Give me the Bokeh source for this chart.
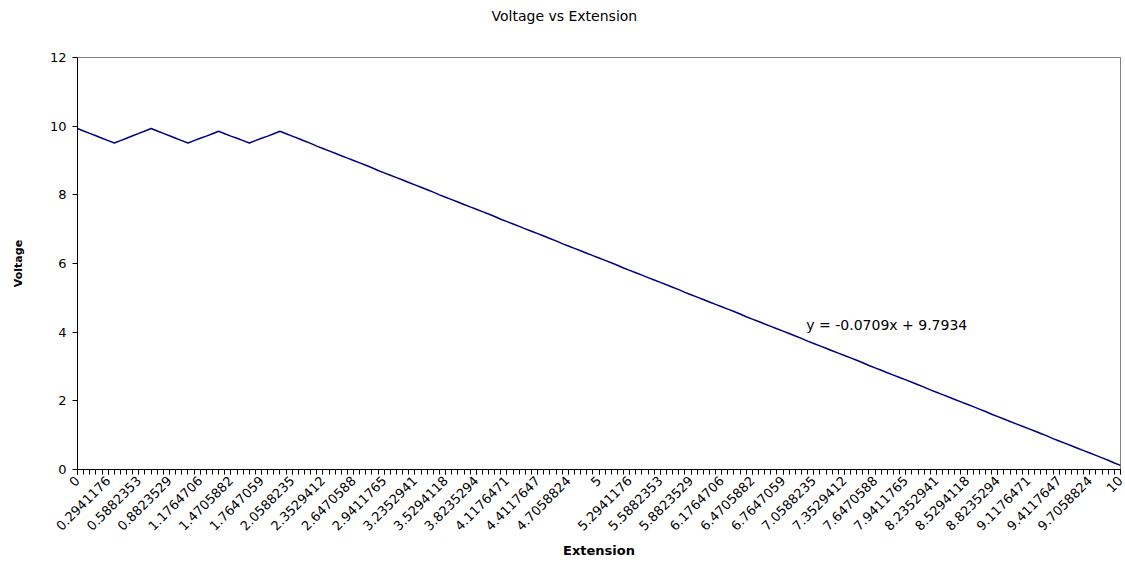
import math
from bokeh.plotting import figure
from bokeh.models import Range1d, FixedTicker, SingleIntervalTicker, Label, Title
from bokeh.embed import file_html
from bokeh.resources import INLINE

# ---------------- data ----------------
title_text = "Voltage vs Extension"
x_title = "Extension"
y_title = "Voltage"
trend_text = "y = -0.0709x + 9.7934"

# 171 category positions (extension = index / 17), label every 5th category
n_points = 171
tick_labels = [
    "0", "0.2941176", "0.5882353", "0.8823529", "1.1764706", "1.4705882",
    "1.7647059", "2.0588235", "2.3529412", "2.6470588", "2.9411765",
    "3.2352941", "3.5294118", "3.8235294", "4.1176471", "4.4117647",
    "4.7058824", "5", "5.2941176", "5.5882353", "5.8823529", "6.1764706",
    "6.4705882", "6.7647059", "7.0588235", "7.3529412", "7.6470588",
    "7.9411765", "8.2352941", "8.5294118", "8.8235294", "9.1176471",
    "9.4117647", "9.7058824", "10",
]

voltage = [
    9.93, 9.86, 9.79, 9.72, 9.65, 9.58, 9.51, 9.58, 9.65, 9.72,
    9.79, 9.86, 9.93, 9.86, 9.79, 9.72, 9.65, 9.58, 9.51, 9.58,
    9.65, 9.71, 9.78, 9.85, 9.78, 9.71, 9.65, 9.58, 9.51, 9.58,
    9.65, 9.71, 9.78, 9.85, 9.78, 9.71, 9.64, 9.57, 9.50, 9.42,
    9.35, 9.28, 9.21, 9.14, 9.07, 9.00, 8.93, 8.86, 8.79, 8.71,
    8.64, 8.57, 8.50, 8.43, 8.36, 8.29, 8.22, 8.15, 8.08, 8.00,
    7.93, 7.86, 7.79, 7.72, 7.65, 7.58, 7.51, 7.44, 7.37, 7.29,
    7.22, 7.15, 7.08, 7.01, 6.94, 6.87, 6.80, 6.73, 6.66, 6.58,
    6.51, 6.44, 6.37, 6.30, 6.23, 6.16, 6.09, 6.02, 5.95, 5.87,
    5.80, 5.73, 5.66, 5.59, 5.52, 5.45, 5.38, 5.31, 5.24, 5.16,
    5.09, 5.02, 4.95, 4.88, 4.81, 4.74, 4.67, 4.60, 4.53, 4.45,
    4.38, 4.31, 4.24, 4.17, 4.10, 4.03, 3.96, 3.89, 3.82, 3.74,
    3.67, 3.60, 3.53, 3.46, 3.39, 3.32, 3.25, 3.18, 3.11, 3.03,
    2.96, 2.89, 2.82, 2.75, 2.68, 2.61, 2.54, 2.47, 2.40, 2.32,
    2.25, 2.18, 2.11, 2.04, 1.97, 1.90, 1.83, 1.76, 1.69, 1.61,
    1.54, 1.47, 1.40, 1.33, 1.26, 1.19, 1.12, 1.05, 0.98, 0.90,
    0.83, 0.76, 0.69, 0.62, 0.55, 0.48, 0.41, 0.34, 0.27, 0.19,
    0.12,
]

x_idx = list(range(len(voltage)))
label_every = 5
major_ticks = list(range(0, n_points, label_every))
overrides = {t: lab for t, lab in zip(major_ticks, tick_labels)}

FONT = "DejaVu Sans"

p = figure(
    width=1125, height=560,
    output_backend="svg", toolbar_location=None,
    x_range=Range1d(0, n_points - 1), y_range=Range1d(0, 12),
    min_border_left=77, min_border_right=5, min_border_top=57, min_border_bottom=90,
    x_axis_label=x_title, y_axis_label=y_title,
)
p.background_fill_color = "white"
p.border_fill_color = "white"
p.outline_line_color = "#808080"
p.xgrid.visible = False
p.ygrid.visible = False

# chart title near the top of the chart; two empty lines keep the gap to the frame
p.add_layout(Title(
    text=title_text + "\n\n", text_font=FONT, text_font_size="14px",
    text_font_style="normal", text_color="black",
    align="left", vertical_align="top", offset=414, standoff=0,
), "above")

# x axis
xa = p.xaxis[0]
xa.ticker = FixedTicker(ticks=major_ticks, minor_ticks=x_idx)
xa.major_label_overrides = overrides
xa.major_label_orientation = math.pi / 4
xa.major_label_text_font = FONT
xa.major_label_text_font_size = "13px"
xa.major_label_text_color = "black"
xa.major_label_standoff = 4
xa.axis_line_color = "black"
xa.major_tick_line_color = "black"
xa.minor_tick_line_color = "black"
xa.major_tick_in = 0
xa.major_tick_out = 5
xa.minor_tick_in = 0
xa.minor_tick_out = 5
xa.axis_label_text_font = FONT
xa.axis_label_text_font_size = "13px"
xa.axis_label_text_font_style = "bold"
xa.axis_label_text_color = "black"
xa.axis_label_standoff = 5

# y axis
ya = p.yaxis[0]
ya.ticker = SingleIntervalTicker(interval=2)
ya.major_label_text_font = FONT
ya.major_label_text_font_size = "13px"
ya.major_label_text_color = "black"
ya.major_label_standoff = 6
ya.axis_line_color = "black"
ya.major_tick_line_color = "black"
ya.minor_tick_line_color = None
ya.major_tick_in = 0
ya.major_tick_out = 5
ya.axis_label_text_font = FONT
ya.axis_label_text_font_size = "11px"
ya.axis_label_text_font_style = "bold"
ya.axis_label_text_color = "black"
ya.axis_label_standoff = 22

p.line(x_idx, voltage, line_color="#000080", line_width=1.5)

p.add_layout(Label(
    x=118.8, y=4.22, text=trend_text,
    text_font=FONT, text_font_size="14px", text_color="black",
    text_baseline="middle", text_align="left",
))

open("out.html", "w").write(file_html(p, INLINE))
